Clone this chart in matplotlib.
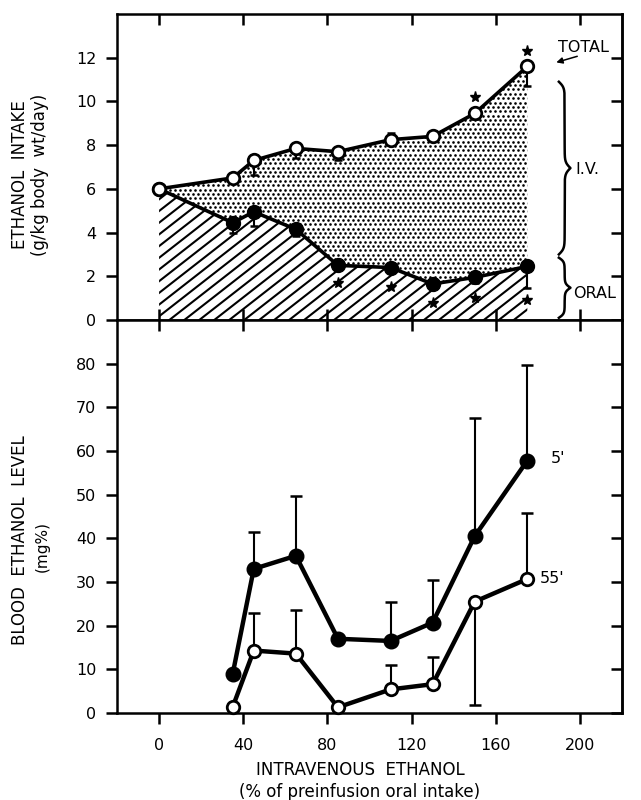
import numpy as np
import matplotlib
matplotlib.use("Agg")
import matplotlib.pyplot as plt

# Données
iv_pct = [0, 35, 45, 65, 85, 110, 130, 150, 175]

total = [6.0, 6.5, 7.3, 7.85, 7.7, 8.25, 8.4, 9.45, 11.6]
total_err_lo = [0.0, 0.25, 0.65, 0.45, 0.4, 0.0, 0.15, 0.25, 0.9]
total_err_hi = [0.15, 0.0, 0.0, 0.0, 0.0, 0.3, 0.0, 0.0, 0.0]

oral = [6.0, 4.45, 4.95, 4.15, 2.5, 2.4, 1.65, 1.95, 2.45]
oral_err_lo = [0.0, 0.45, 0.65, 0.3, 0.2, 0.2, 0.2, 0.25, 1.0]

star_total_x = [150, 175]
star_total_y = [10.2, 12.3]
star_oral_x = [85, 110, 130, 150, 175]
star_oral_y = [1.7, 1.5, 0.8, 1.0, 0.9]

blood_x = [35, 45, 65, 85, 110, 130, 150, 175]
blood_5 = [9.0, 33.0, 36.0, 17.0, 16.5, 20.7, 40.5, 57.8]
blood_5_err = [0.0, 8.5, 13.7, 0.0, 9.0, 9.8, 27.0, 22.0]
blood_55 = [1.4, 14.3, 13.6, 1.3, 5.4, 6.6, 25.5, 30.7]
blood_55_err_hi = [0.0, 8.6, 10.0, 0.0, 5.6, 6.2, 0.0, 15.0]
blood_55_err_lo = [0.0, 0.0, 0.0, 0.0, 0.0, 0.0, 23.7, 0.0]

xticks = [0, 40, 80, 120, 160, 200]

plt.rcParams['font.family'] = ['DejaVu Sans']

fig = plt.figure(figsize=(6.41, 8.0), dpi=100)
ax1 = fig.add_axes([117/641, 1-320/800, 505/641, 306/800])
ax2 = fig.add_axes([117/641, 1-713/800, 505/641, 393/800])

TICK_FS = 11.5
LAB_FS = 11.5


def style_axes(ax):
    for s in ax.spines.values():
        s.set_linewidth(1.8)
    ax.tick_params(axis='y', direction='out', length=8, width=1.8, labelsize=TICK_FS, pad=7)
    ax.tick_params(axis='x', width=1.8, labelsize=TICK_FS)
    # graduations intérieures à droite
    sec = ax.secondary_yaxis('right')
    sec.set_yticks(ax.get_yticks())
    sec.tick_params(direction='in', length=8, width=1.8, labelright=False)
    sec.spines['right'].set_linewidth(1.8)


def accolade(ax, x, y0, y1, w, k=60):
    # accolade "}" dessinée comme une courbe
    half = (y1 - y0) / 2
    beta = k / (y1 - y0)
    s = np.linspace(0, half, 200)
    f = w * (1/(1+np.exp(-beta*s)) + 1/(1+np.exp(-beta*(s-half)))) - 0.5*w
    xs = np.concatenate([x + f, x + f[::-1]])
    ys = np.concatenate([y0 + s, y1 - s[::-1]])
    ax.plot(xs, ys, color='black', lw=1.8, clip_on=False)


# ---------------- panneau du haut ----------------
ax1.set_xlim(-20, 220)
ax1.set_ylim(0, 14)
ax1.set_yticks(range(0, 13, 2))
ax1.set_xticks(xticks)
style_axes(ax1)
ax1.tick_params(axis='x', direction='in', length=8, top=True, bottom=True, labelbottom=False)

# zone hachurée (oral) et zone pointillée (i.v.)
poly_oral = ax1.fill_between(iv_pct, 0, oral, facecolor='none', edgecolor='none')
poly_iv = ax1.fill_between(iv_pct, oral, total, facecolor='none', edgecolor='none')

# hachures diagonales, en pouces
ang = np.tan(np.radians(38))
for c in np.arange(-6, 8, 0.117):
    xl = np.array([0, 6.41])
    ln, = ax1.plot(xl, c + ang*xl, color='black', lw=1.5, transform=fig.dpi_scale_trans)
    ln.set_clip_path(poly_oral.get_paths()[0], ax1.transData)

# pointillé
gx, gy = [], []
sp = 0.05
for i, yy in enumerate(np.arange(4.8, 7.9, sp*0.87)):
    off = (i % 2) * sp / 2
    for xx in np.arange(1.5 + off, 6.3, sp):
        gx.append(xx)
        gy.append(yy)
dots = ax1.scatter(gx, gy, s=3.6, color='black', linewidths=0, transform=fig.dpi_scale_trans)
dots.set_clip_path(poly_iv.get_paths()[0], ax1.transData)

ax1.errorbar(iv_pct, total, yerr=[total_err_lo, total_err_hi], fmt='none',
             ecolor='black', elinewidth=1.5, capsize=3, capthick=1.8, zorder=3)
ax1.errorbar(iv_pct, oral, yerr=[oral_err_lo, [0]*len(oral)], fmt='none',
             ecolor='black', elinewidth=1.5, capsize=3, capthick=1.8, zorder=3)
ax1.plot(iv_pct, oral, '-o', color='black', lw=2.6, ms=10, mfc='black', mec='black', zorder=4)
ax1.plot(iv_pct, total, '-o', color='black', lw=2.6, ms=9, mfc='white', mec='black', mew=2, zorder=5)
ax1.plot(star_total_x, star_total_y, '*', color='black', ms=8, ls='none', zorder=6)
ax1.plot(star_oral_x, star_oral_y, '*', color='black', ms=8, ls='none', zorder=6)

ax1.text(189.5, 12.45, 'TOTAL', fontsize=LAB_FS, ha='left', va='center')
ax1.annotate('', xy=(187.5, 11.75), xytext=(200, 12.1),
             arrowprops=dict(arrowstyle='-|>', color='black', lw=1.1, mutation_scale=9))
accolade(ax1, 190, 3.0, 10.9, 5.5)
accolade(ax1, 190, 0.1, 2.85, 5.5, k=30)
ax1.text(198, 6.9, 'I.V.', fontsize=LAB_FS, ha='left', va='center')
ax1.text(197, 1.2, 'ORAL', fontsize=LAB_FS, ha='left', va='center')

# ---------------- panneau du bas ----------------
ax2.set_xlim(-20, 220)
ax2.set_ylim(0, 90)
ax2.set_yticks(range(0, 81, 10))
ax2.set_xticks(xticks)
style_axes(ax2)
ax2.tick_params(axis='x', direction='out', length=8, pad=10)
sec_top = ax2.secondary_xaxis('top')
sec_top.set_xticks(xticks)
sec_top.tick_params(direction='in', length=8, width=1.8, labeltop=False)

ax2.errorbar(blood_x, blood_5, yerr=[[0]*len(blood_5), blood_5_err], fmt='none',
             ecolor='black', elinewidth=1.5, capsize=4, capthick=1.8, zorder=3)
ax2.errorbar(blood_x, blood_55, yerr=[blood_55_err_lo, blood_55_err_hi], fmt='none',
             ecolor='black', elinewidth=1.5, capsize=4, capthick=1.8, zorder=3)
ax2.plot(blood_x, blood_5, '-o', color='black', lw=3.2, ms=10.5, mfc='black', zorder=4, clip_on=False)
ax2.plot(blood_x, blood_55, '-o', color='black', lw=3.2, ms=9, mfc='white', mec='black', mew=2,
         zorder=5, clip_on=False)
ax2.text(186, 58.2, "5'", fontsize=LAB_FS, ha='left', va='center')
ax2.text(181, 30.8, "55'", fontsize=LAB_FS, ha='left', va='center')

# titres des axes
fig.text(20/641, 1-175/800, 'ETHANOL  INTAKE', rotation=90, ha='center', va='center', fontsize=12)
fig.text(40/641, 1-175/800, '(g/kg body  wt/day)', rotation=90, ha='center', va='center', fontsize=12)
fig.text(20/641, 1-540/800, 'BLOOD  ETHANOL  LEVEL', rotation=90, ha='center', va='center', fontsize=12)
fig.text(42/641, 1-547/800, '(mg%)', rotation=90, ha='center', va='center', fontsize=11)
fig.text(360/641, 1-770/800, 'INTRAVENOUS  ETHANOL', ha='center', va='center', fontsize=12)
fig.text(360/641, 1-792/800, '(% of preinfusion oral intake)', ha='center', va='center', fontsize=12)

fig.savefig('out.png', dpi=100)
